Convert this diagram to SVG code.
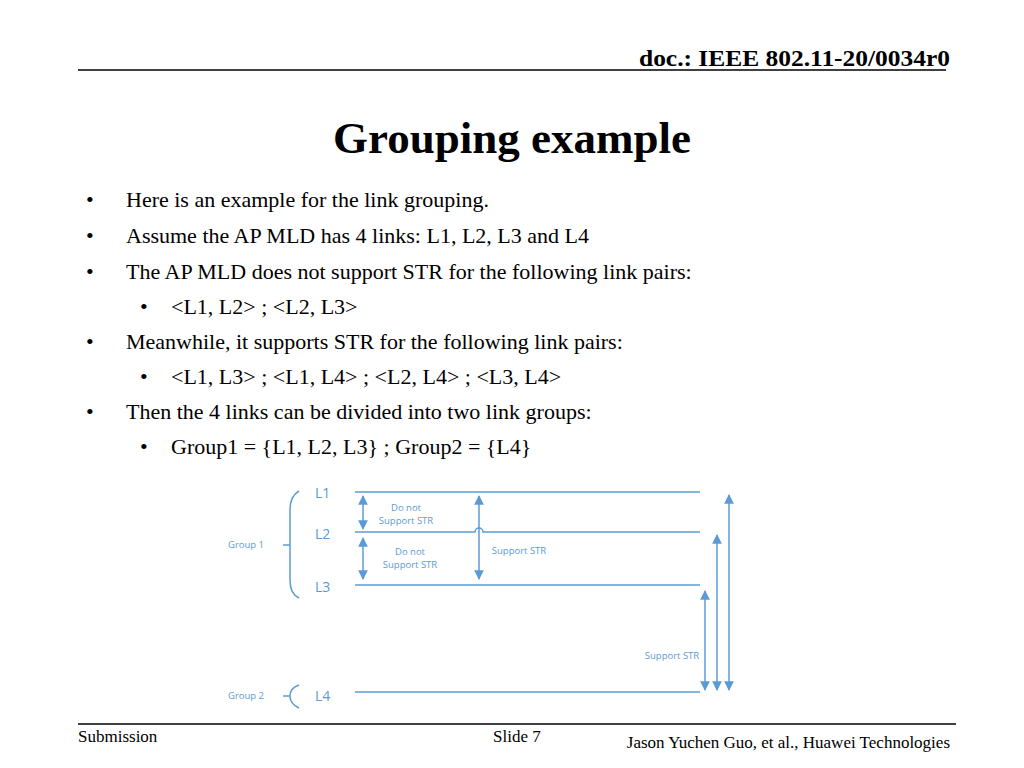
<svg xmlns="http://www.w3.org/2000/svg" width="1024" height="768" viewBox="0 0 1024 768">
<style>
.t{font-family:"Liberation Serif",serif;fill:#000}
.d{font-family:"Open Sans","Liberation Sans",sans-serif;fill:#5b9bd5}
.ln{stroke:#5b9bd5;stroke-width:1.5;fill:none}
</style>
<defs>
<marker id="a" viewBox="0 0 10 10" refX="9" refY="5" markerWidth="6.5" markerHeight="6.5" orient="auto-start-reverse"><path d="M0,0L10,5L0,10z" fill="#5b9bd5"/></marker>
</defs>
<rect width="1024" height="768" fill="#fff"/>
<text class="t" x="950" y="66" font-size="24" font-weight="bold" text-anchor="end" textLength="311" lengthAdjust="spacingAndGlyphs">doc.: IEEE 802.11-20/0034r0</text>
<line x1="78" y1="70" x2="946" y2="70" stroke="#000" stroke-width="1.5"/>
<text class="t" x="512" y="153" font-size="45" font-weight="bold" text-anchor="middle">Grouping example</text>
<g class="t" font-size="22">
<text x="86" y="207">•</text><text x="126" y="207">Here is an example for the link grouping.</text>
<text x="86" y="243">•</text><text x="126" y="243">Assume the AP MLD has 4 links: L1, L2, L3 and L4</text>
<text x="86" y="279">•</text><text x="126" y="279">The AP MLD does not support STR for the following link pairs:</text>
<text x="140" y="314">•</text><text x="171" y="314">&lt;L1, L2&gt; ; &lt;L2, L3&gt;</text>
<text x="86" y="349">•</text><text x="126" y="349">Meanwhile, it supports STR for the following link pairs:</text>
<text x="140" y="384">•</text><text x="171" y="384">&lt;L1, L3&gt; ; &lt;L1, L4&gt; ; &lt;L2, L4&gt; ; &lt;L3, L4&gt;</text>
<text x="86" y="419">•</text><text x="126" y="419">Then the 4 links can be divided into two link groups:</text>
<text x="140" y="454">•</text><text x="171" y="454">Group1 = {L1, L2, L3} ; Group2 = {L4}</text>
</g>
<g id="links">
<line class="ln" x1="355" y1="492" x2="700" y2="492"/>
<path class="ln" d="M355,532H475a4,4 0 0 1 8,0H700"/>
<line class="ln" x1="355" y1="585" x2="700" y2="585"/>
<line class="ln" x1="355" y1="692" x2="700" y2="692"/>
</g>
<g id="labels" class="d">
<text x="315" y="498" font-size="14">L1</text>
<text x="315" y="539" font-size="14">L2</text>
<text x="315" y="592" font-size="14">L3</text>
<text x="315" y="701" font-size="14">L4</text>
<text x="228" y="548" font-size="9.5">Group 1</text>
<text x="228" y="699" font-size="9.5">Group 2</text>
<text x="406" y="511" font-size="9.5" text-anchor="middle">Do not</text>
<text x="406" y="524" font-size="9.5" text-anchor="middle">Support STR</text>
<text x="410" y="555" font-size="9.5" text-anchor="middle">Do not</text>
<text x="410" y="568" font-size="9.5" text-anchor="middle">Support STR</text>
<text x="519" y="554" font-size="9.5" text-anchor="middle">Support STR</text>
<text x="672" y="659" font-size="9.5" text-anchor="middle">Support STR</text>
</g>
<g id="braces">
<path class="ln" d="M299,491Q290,496 290,510V580Q290,594 299,598"/>
<line class="ln" x1="283" y1="545" x2="290" y2="545"/>
<path class="ln" d="M299,685Q290,688 290,696Q290,704 299,708"/>
<line class="ln" x1="283" y1="696" x2="290" y2="696"/>
</g>
<g id="connectors" class="ln" marker-start="url(#a)" marker-end="url(#a)">
<line x1="363" y1="496" x2="363" y2="529"/>
<line x1="363" y1="538" x2="363" y2="579"/>
<line x1="479" y1="496" x2="479" y2="579"/>
<line x1="705" y1="591" x2="705" y2="690"/>
<line x1="717" y1="535" x2="717" y2="690"/>
<line x1="729" y1="495" x2="729" y2="690"/>
</g>
<line x1="78" y1="724" x2="956" y2="724" stroke="#000" stroke-width="1.5"/>
<text class="t" x="78" y="742" font-size="17">Submission</text>
<text class="t" x="493" y="742" font-size="17">Slide 7</text>
<text class="t" x="950" y="748" font-size="17" text-anchor="end">Jason Yuchen Guo, et al., Huawei Technologies</text>
</svg>
